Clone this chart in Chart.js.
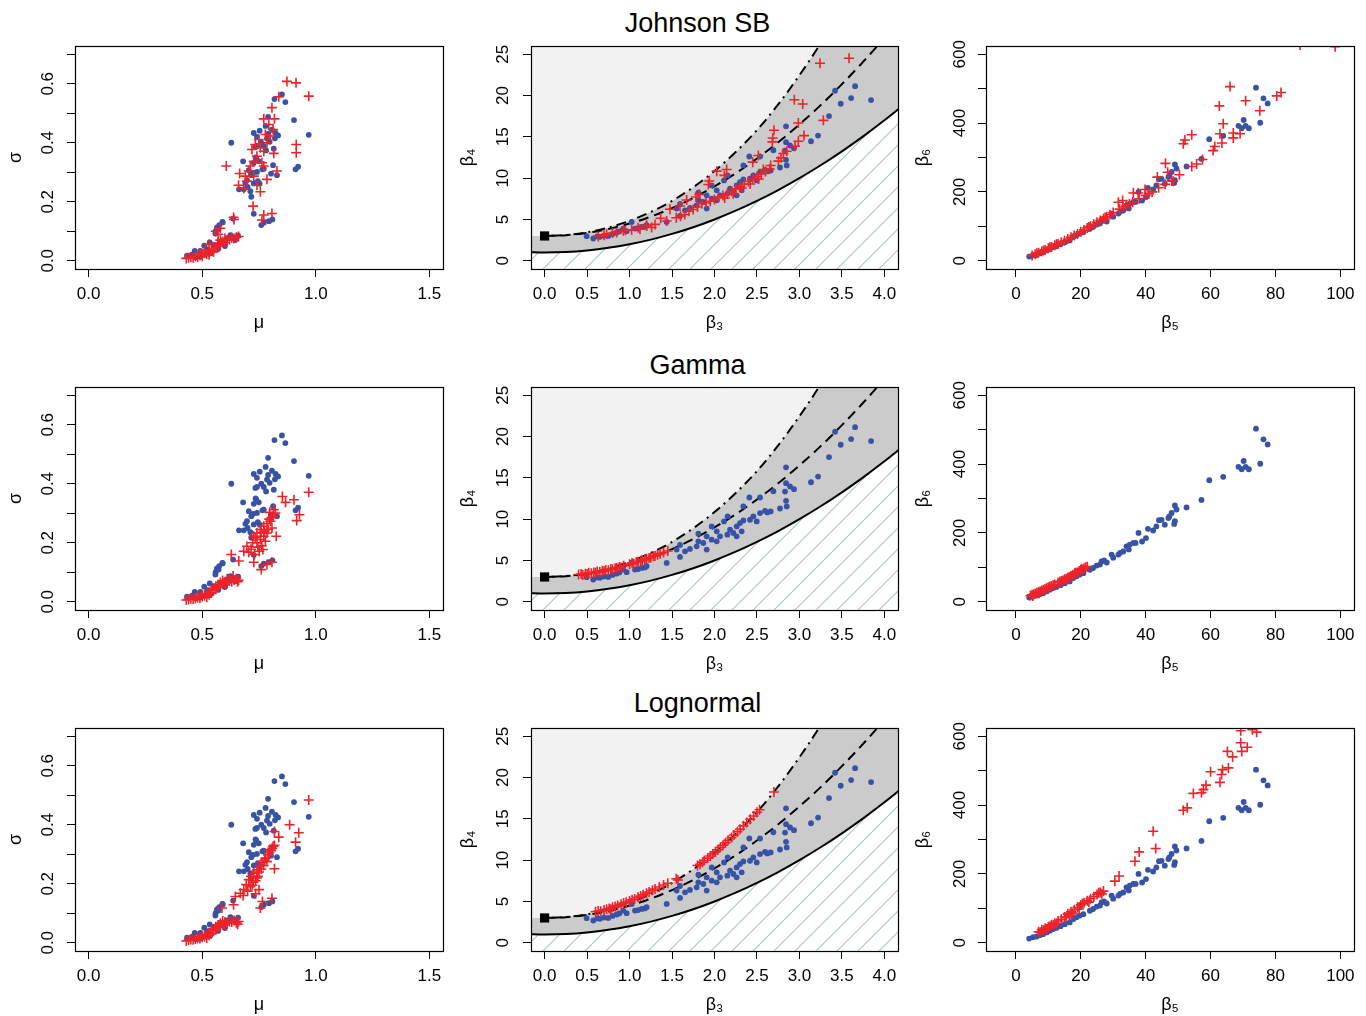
<!DOCTYPE html>
<html>
<head>
<meta charset="utf-8">
<script src="https://cdn.jsdelivr.net/npm/chart.js@4.4.1/dist/chart.umd.min.js"></script>
<style>
  body { margin: 0; width: 1366px; height: 1016px; background: #fff; position: relative; overflow: hidden;
         font-family: "Liberation Sans", Arial, Helvetica, sans-serif; }
  canvas { position: absolute; }
  .ttl { position: absolute; font-size: 27px; color: #000; white-space: nowrap; transform: translate(-50%, -50%); }
</style>
</head>
<body>
<div class="ttl" style="left:697.5px; top:23px">Johnson SB</div>
<div class="ttl" style="left:697.5px; top:364.5px">Gamma</div>
<div class="ttl" style="left:697.5px; top:703px">Lognormal</div>
<script>
// ---- data ----
const fitNames = ['Johnson SB', 'Gamma', 'Lognormal'];

// tick values and labels
const muTicks = [0, 0.5, 1, 1.5];
const muLabels = ['0.0', '0.5', '1.0', '1.5'];
const sigmaTicks = [0, 0.1, 0.2, 0.3, 0.4, 0.5, 0.6, 0.7];
const sigmaLabels = ['0.0', '', '0.2', '', '0.4', '', '0.6', ''];
const b3Ticks = [0, 0.5, 1, 1.5, 2, 2.5, 3, 3.5, 4];
const b3Labels = ['0.0', '0.5', '1.0', '1.5', '2.0', '2.5', '3.0', '3.5', '4.0'];
const b4Ticks = [0, 5, 10, 15, 20, 25];
const b4Labels = ['0', '5', '10', '15', '20', '25'];
const b5Ticks = [0, 20, 40, 60, 80, 100];
const b5Labels = ['0', '20', '40', '60', '80', '100'];
const b6Ticks = [0, 100, 200, 300, 400, 500, 600];
const b6Labels = ['0', '', '200', '', '400', '', '600'];

// empirical (blue) points, same in every row
const blueMuSigma = [
  [0.851,0.564],[0.818,0.548],[0.866,0.538],[0.790,0.488],[0.904,0.477],[0.779,0.457],[0.727,0.433],[0.753,0.441],
  [0.807,0.444],[0.823,0.433],[0.834,0.425],[0.969,0.427],[0.741,0.420],[0.785,0.414],[0.628,0.400],[0.741,0.389],
  [0.771,0.389],[0.734,0.386],[0.815,0.380],[0.781,0.374],[0.797,0.403],[0.680,0.337],[0.738,0.346],[0.749,0.337],
  [0.727,0.332],[0.812,0.324],[0.922,0.319],[0.911,0.310],[0.705,0.307],[0.771,0.312],[0.724,0.298],[0.741,0.301],
  [0.716,0.290],[0.829,0.290],[0.803,0.295],[0.697,0.273],[0.690,0.264],[0.727,0.262],[0.753,0.261],[0.662,0.242],
  [0.683,0.242],[0.712,0.236],[0.716,0.217],[0.727,0.159],[0.760,0.121],[0.771,0.129],[0.794,0.134],[0.809,0.140],
  [0.636,0.143],[0.589,0.132],[0.575,0.121],[0.565,0.113],[0.559,0.100],[0.760,0.400],[0.790,0.430],[0.820,0.415],
  [0.765,0.310],[0.745,0.270],[0.700,0.250],[0.735,0.350],
  [0.467,0.033],[0.509,0.051],[0.533,0.062],[0.558,0.092],[0.572,0.109],[0.590,0.130],[0.624,0.087],[0.658,0.085],
  [0.639,0.078],[0.433,0.017],[0.455,0.021],[0.492,0.033],[0.521,0.039],[0.550,0.053],[0.580,0.064],[0.609,0.076],
  [0.489,0.014],[0.536,0.025],[0.600,0.050],[0.570,0.040],[0.645,0.070],[0.510,0.020],[0.470,0.012]
];
const blueB3B4 = [
  [3.843,19.45],[3.655,21.14],[3.608,19.69],[3.419,20.58],[3.486,19.01],[3.348,17.52],[3.219,15.15],[3.136,14.47],
  [2.842,16.28],[2.842,14.35],[2.889,13.95],[2.936,13.63],[2.830,13.34],[2.842,12.22],[2.771,11.29],[2.693,13.38],
  [2.536,12.62],[2.410,12.62],[2.340,11.54],[2.595,11.01],[2.661,10.93],[2.536,10.73],[2.457,10.33],[2.418,9.93],
  [2.497,9.73],[2.340,9.85],[2.261,9.12],[2.300,9.53],[2.155,10.33],[2.112,9.73],[2.183,8.72],[2.222,8.32],
  [2.151,8.12],[2.065,7.92],[2.026,7.32],[1.967,7.52],[1.908,7.92],[1.810,8.24],[1.868,7.11],[1.790,6.71],
  [1.711,6.39],[1.653,6.11],[1.594,6.87],[1.554,6.31],[1.594,5.43],[1.437,4.70],[1.201,4.30],[1.143,4.10],
  [1.064,3.90],[0.966,3.58],[0.926,3.90],[0.848,3.42],[0.750,3.01],[0.652,2.89],[0.573,2.69],[0.495,2.97],
  [1.025,4.70],[2.026,8.52],[1.967,9.12],[1.810,7.32],[1.908,6.31],[2.261,7.92],[2.320,8.52],[2.622,10.81],
  [2.850,11.54],[1.180,4.15],[1.100,3.95],[0.880,3.55],[0.800,3.25],[0.700,3.05],[0.620,2.95]
];
const blueB5B6 = [
  [74.0,503],[76.3,472],[77.6,457],[75.3,401],[70.2,409],[68.6,392],[69.6,385],[70.8,392],[71.8,385],[59.6,353],
  [63.9,363],[57.2,296],[52.6,274],[49.0,280],[49.5,268],[47.3,248],[49.0,234],[48.8,226],[44.1,237],[45.9,224],
  [43.3,219],[42.3,207],[40.7,212],[37.8,200],[40.1,185],[38.9,175],[36.9,171],[35.1,166],[34.1,161],[33.1,146],
  [31.6,137],[29.5,137],[28.0,114],[26.4,117],[24.9,105],[22.8,93],[20.8,83],[18.7,74],[16.6,59],[15.1,54],
  [12.5,43],[10.5,35],[8.4,25],[6.4,18],[4.1,12],[5.3,16],[7.4,22],[9.5,30],[11.5,40],[17.7,69],
  [19.7,79],[23.8,98],[25.9,108],[30.0,128],[32.1,142],[36.2,171],[44.9,238],[47.0,243],[48.0,258],[34.8,152],
  [27.2,120],[13.8,48]
];

// fitted (red) points, one array per row
const redMuSigma = [
  [ // Johnson SB
    [0.873,0.608],[0.913,0.603],[0.969,0.558],[0.837,0.556],[0.807,0.519],[0.771,0.481],[0.818,0.481],[0.793,0.462],
    [0.812,0.445],[0.778,0.428],[0.800,0.423],[0.749,0.411],[0.785,0.400],[0.734,0.394],[0.756,0.383],[0.719,0.377],
    [0.771,0.371],[0.741,0.354],[0.815,0.364],[0.727,0.337],[0.763,0.332],[0.712,0.321],[0.606,0.321],[0.914,0.394],
    [0.914,0.366],[0.829,0.304],[0.705,0.304],[0.665,0.296],[0.690,0.287],[0.727,0.287],[0.771,0.321],[0.697,0.270],
    [0.785,0.276],[0.660,0.256],[0.683,0.245],[0.741,0.256],[0.756,0.234],[0.724,0.185],[0.763,0.138],[0.771,0.155],
    [0.807,0.160],[0.638,0.147],
    [0.43,0.008],[0.44,0.010],[0.45,0.012],[0.46,0.010],[0.47,0.015],[0.48,0.013],[0.49,0.018],[0.50,0.020],
    [0.50,0.015],[0.51,0.025],[0.52,0.022],[0.53,0.030],[0.53,0.020],[0.54,0.035],[0.55,0.040],[0.55,0.030],
    [0.56,0.045],[0.57,0.050],[0.57,0.060],[0.58,0.055],[0.58,0.070],[0.59,0.065],[0.60,0.062],[0.60,0.075],
    [0.61,0.070],[0.62,0.072],[0.63,0.078],[0.64,0.075],[0.65,0.080],[0.66,0.082],[0.56,0.100],[0.57,0.090],
    [0.58,0.110],[0.64,0.140],[0.53,0.055],[0.49,0.025],[0.51,0.035]
  ],
  [ // Gamma
    [0.43,0.006],[0.44,0.008],[0.45,0.010],[0.46,0.009],[0.47,0.012],[0.48,0.014],[0.49,0.013],[0.50,0.018],
    [0.50,0.022],[0.51,0.020],[0.52,0.026],[0.53,0.024],[0.53,0.032],[0.54,0.030],[0.55,0.038],[0.55,0.045],
    [0.56,0.042],[0.57,0.050],[0.57,0.058],[0.58,0.055],[0.58,0.065],[0.59,0.060],[0.60,0.058],[0.60,0.068],
    [0.61,0.064],[0.62,0.070],[0.63,0.068],[0.64,0.074],[0.65,0.078],[0.66,0.073],[0.56,0.052],[0.54,0.040],
    [0.59,0.072],[0.61,0.078],[0.48,0.020],[0.52,0.015],
    [0.683,0.171],[0.705,0.168],[0.697,0.188],[0.722,0.200],[0.727,0.222],[0.741,0.233],[0.756,0.245],[0.771,0.256],
    [0.785,0.265],[0.800,0.273],[0.812,0.290],[0.822,0.301],[0.756,0.211],[0.771,0.222],[0.741,0.200],[0.767,0.177],
    [0.751,0.171],[0.734,0.217],[0.785,0.233],[0.807,0.250],[0.815,0.312],[0.797,0.303],[0.762,0.190],[0.778,0.205],
    [0.790,0.245],[0.745,0.185],[0.730,0.160],[0.715,0.178],[0.760,0.235],[0.795,0.280],[0.805,0.285],[0.775,0.240],
    [0.853,0.357],[0.867,0.337],[0.904,0.346],[0.969,0.371],[0.928,0.295],[0.916,0.275],[0.628,0.160],[0.661,0.138],
    [0.727,0.134],[0.760,0.109],[0.785,0.126],[0.807,0.134],[0.636,0.087],[0.656,0.068],[0.826,0.222]
  ],
  [ // Lognormal
    [0.43,0.006],[0.44,0.009],[0.45,0.011],[0.46,0.010],[0.47,0.013],[0.48,0.015],[0.49,0.014],[0.50,0.019],
    [0.50,0.024],[0.51,0.021],[0.52,0.028],[0.53,0.025],[0.53,0.034],[0.54,0.031],[0.55,0.040],[0.55,0.047],
    [0.56,0.044],[0.57,0.052],[0.57,0.060],[0.58,0.057],[0.58,0.066],[0.59,0.062],[0.60,0.060],[0.60,0.070],
    [0.61,0.066],[0.62,0.072],[0.63,0.070],[0.64,0.075],[0.65,0.068],[0.66,0.072],[0.56,0.054],[0.54,0.042],
    [0.59,0.074],[0.48,0.021],[0.52,0.016],
    [0.646,0.157],[0.668,0.168],[0.683,0.180],[0.694,0.197],[0.705,0.214],[0.715,0.225],[0.727,0.236],[0.741,0.247],
    [0.753,0.261],[0.763,0.272],[0.778,0.287],[0.790,0.298],[0.803,0.312],[0.700,0.175],[0.720,0.195],[0.735,0.210],
    [0.745,0.225],[0.760,0.250],[0.770,0.262],[0.785,0.275],[0.795,0.305],[0.808,0.320],[0.725,0.205],[0.750,0.240],
    [0.712,0.190],[0.680,0.160],[0.740,0.220],[0.775,0.280],
    [0.969,0.484],[0.885,0.400],[0.925,0.373],[0.911,0.341],[0.837,0.358],[0.818,0.377],[0.812,0.327],[0.797,0.315],
    [0.818,0.251],[0.587,0.118],[0.638,0.129],[0.656,0.063],[0.750,0.180],[0.735,0.166],[0.765,0.140],[0.807,0.151],
    [0.756,0.118],[0.818,0.330]
  ]
];
const redB3B4 = [
  [ // Johnson SB
    [3.242,23.91],[3.584,24.52],[2.940,19.49],[3.038,18.97],[3.282,17.00],[2.987,16.68],[3.054,15.15],[2.987,14.47],
    [2.700,15.80],[2.685,14.87],[2.681,14.39],[2.948,13.87],[2.811,12.98],[2.850,13.26],[2.783,12.46],[2.752,12.06],
    [2.450,11.94],[2.516,12.74],[2.661,11.54],[2.575,11.05],[2.143,11.05],[2.116,10.33],[2.026,10.85],[1.939,9.65],
    [1.927,9.24],[1.821,8.04],[1.782,7.72],[1.672,7.36],[1.594,6.63],[1.476,6.23],[1.366,5.14],[1.437,4.82],
    [1.260,4.02],[1.201,4.22],[1.123,3.82],[1.025,3.74],[0.926,3.62],[0.848,3.42],[0.730,3.22],[0.632,2.93],
    [2.00,7.4],[2.05,7.7],[2.10,7.9],[2.15,8.1],[2.20,8.4],[2.25,8.7],[2.30,9.0],[2.35,9.3],[2.40,9.6],[2.45,9.9],
    [2.50,10.2],[2.55,10.5],[2.60,10.8],[2.65,11.1],[1.90,7.0],[1.95,7.2],[1.85,6.9],[1.80,6.5],[1.70,6.0],[1.65,5.6],
    [1.60,5.4],[1.55,5.2],[1.75,6.2],[2.12,7.6],[2.22,8.1],[2.32,8.8],[2.42,9.3],[2.52,9.9],[1.10,4.0],[0.95,3.7],
    [0.80,3.35],[0.70,3.1],[1.20,4.3],[1.30,4.4]
  ],
  [ // Gamma
    [0.40,3.30],[0.43,3.35],[0.45,3.25],[0.48,3.40],[0.50,3.35],[0.52,3.50],[0.55,3.45],[0.58,3.55],[0.60,3.50],
    [0.62,3.65],[0.65,3.60],[0.68,3.75],[0.70,3.70],[0.72,3.85],[0.75,3.80],[0.78,3.95],[0.80,3.90],[0.83,4.05],
    [0.85,4.10],[0.88,4.20],[0.90,4.15],[0.93,4.35],[1.00,4.55],[1.03,4.70],[1.05,4.60],[1.08,4.80],[1.10,4.85],
    [1.13,4.95],[1.15,5.05],[1.18,5.10],[1.20,5.20],[1.23,5.30],[1.25,5.35],[1.28,5.50],[1.30,5.55],[1.33,5.70],
    [1.36,5.80],[1.40,5.95],[1.45,6.15]
  ],
  [ // Lognormal
    [0.60,3.75],[0.63,3.85],[0.66,3.80],[0.70,3.95],[0.73,4.05],[0.76,4.15],[0.78,4.05],[0.80,4.30],[0.83,4.40],
    [0.86,4.50],[0.90,4.65],[0.93,4.80],[0.96,4.90],[1.00,5.05],[1.03,5.20],[1.06,5.30],[1.10,5.50],[1.13,5.65],
    [1.16,5.80],[1.20,6.00],[1.23,6.15],[1.27,6.35],[1.30,6.50],[1.35,6.75],[1.40,7.00],[1.45,7.20],[1.55,7.75],
    [1.57,7.60],[1.80,9.35],[1.83,9.50],[1.86,9.75],[1.88,9.95],[1.92,10.25],[1.95,10.50],[1.98,10.75],[2.01,11.00],
    [2.04,11.25],[2.07,11.55],[2.10,11.80],[2.13,12.10],[2.16,12.40],[2.20,12.75],[2.23,13.05],[2.27,13.45],
    [2.30,13.75],[2.34,14.15],[2.38,14.55],[2.42,14.95],[2.46,15.35],[2.50,15.80],[2.53,16.10],[2.70,18.26]
  ]
];
const redB5B6 = [
  [ // Johnson SB
    [66.0,506],[62.7,450],[70.8,465],[75.2,436],[63.9,398],[80.4,479],[81.7,489],[98.4,622],[87.6,627],[54.2,366],
    [52.1,351],[51.6,340],[62.9,369],[63.5,342],[60.8,320],[61.3,332],[67.0,371],[67.0,357],[69.1,369],[57.5,294],
    [55.7,281],[54.2,274],[50.4,250],[46.1,283],[46.8,257],[43.6,243],[48.5,231],[36.2,197],[37.7,197],[31.6,170],
    [32.9,175],[39.8,207],
    [5,15],[6,19],[7,23],[8,27],[9,31],[10,36],[11,40],[12,45],[13,49],[14,54],[15,58],[16,63],[17,68],[18,73],
    [19,78],[20,84],[21,89],[22,95],[23,100],[24,106],[25,112],[26,117],[27,122],[28,128],[29,134],[30,140],
    [32,150],[34,160],[36,170],[38,180],[40,190],[42,200],[44,212],[46,222],[48,232],[6.5,22],[8.5,30],[10.5,39],
    [12.5,48],[22.5,98],[27.5,126],[33,156],[35,165],[41,195]
  ],
  [ // Gamma
    [4.5,18],[5,20],[5.5,22],[6,24],[6.5,26],[7,28],[7.5,30],[8,33],[8.5,35],[9,37],[9.5,40],[10,42],[10.5,44],
    [11,46],[11.5,48],[12,50],[13,55],[14,60],[14.5,62],[15,65],[15.5,67],[16,70],[16.5,72],[17,75],[17.5,78],
    [18,80],[18.5,83],[19,86],[19.5,89],[20,92],[20.5,94],[21,97],[21.5,100],[22,102],[5.2,17],[7.2,25],[13.5,58],
    [16.2,68],[18.2,84],[20.2,96]
  ],
  [ // Lognormal
    [69.3,616],[72.9,619],[74.2,612],[69.3,581],[69.6,556],[71.3,568],[65.2,556],[66.8,540],[65.5,508],[63.7,503],
    [63.4,489],[62.9,466],[60.0,497],[58.6,458],[57.8,445],[57.2,436],[54.7,434],[52.8,392],[51.6,385],[42.3,324],
    [43.1,274],[38.0,264],[36.7,237],[31.8,194],[30.5,179],
    [7,32],[7.5,30],[8,38],[8.5,36],[9,42],[9.5,40],[10,46],[10.5,48],[11,52],[11.5,50],[12,57],[12.5,55],[13,63],
    [14,68],[15,75],[15.5,74],[16,84],[16.5,80],[17,90],[17.5,86],[18,96],[19,103],[19.5,98],[20,110],[20.5,114],
    [21,116],[22,122],[22.5,118],[23,128],[24,134],[25,140],[25.5,145],[26,146],[27,150],[26.5,142]
  ]
];

// reference curves of the (beta3, beta4) plane
const curveX = [-0.2, 0, 0.25, 0.5, 0.75, 1, 1.25, 1.5, 1.75, 2, 2.25, 2.5, 2.75, 3, 3.25, 3.5, 3.75, 4, 4.25];
const lowerBound = [1.04, 1.0, 1.06, 1.25, 1.56, 2.0, 2.56, 3.25, 4.06, 5.0, 6.06, 7.25, 8.56, 10.0, 11.56, 13.25, 15.06, 17.0, 19.06];
const gammaLine = [3.0, 3.09, 3.38, 3.84, 4.5, 5.34, 6.38, 7.59, 9.0, 10.59, 12.38, 14.34, 16.5, 18.84, 21.38, 24.09, 27.0, 30.09];
const lognormalLine = [3.0, 3.11, 3.44, 4.02, 4.83, 5.91, 7.24, 8.9, 10.86, 13.17, 15.82, 18.93, 22.46, 26.34, 30.74];
const upperBound = [3.0, 3.0, 3.11, 3.44, 4.02, 4.83, 5.91, 7.24, 8.9, 10.86, 13.17, 15.82, 18.93, 22.46, 26.34, 30.74, 35.62, 41.0, 46.99];
const normalPoint = [0, 3];

// ---- layout / style ----
const FONT = '"Liberation Sans", Arial, Helvetica, sans-serif';
const BLUE = '#3853a6';
const RED = '#ee2229';
const BOX_X0 = [75, 531, 986];
const BOX_X1 = [443, 898, 1354];
const BOX_Y0 = [46, 387, 728];
const BOX_H = 223;
const PAD_T = 46, PAD_R = 8, AXIS_H = 70;

Chart.defaults.font.family = FONT;

const AXES = [
  { x: { min: -0.06, max: 1.56, ticks: muTicks, labels: muLabels, title: 'μ' },
    y: { min: -0.028, max: 0.728, ticks: sigmaTicks, labels: sigmaLabels, title: 'σ', pad: 7.2, tpad: 5.8 }, wy: 75 },
  { x: { min: -0.16, max: 4.16, ticks: b3Ticks, labels: b3Labels, title: 'β₃' },
    y: { min: -1, max: 26, ticks: b4Ticks, labels: b4Labels, title: 'β₄', pad: 10, tpad: 2.8 }, wy: 76 },
  { x: { min: -9.2, max: 104.2, ticks: b5Ticks, labels: b5Labels, title: 'β₅' },
    y: { min: -24, max: 624, ticks: b6Ticks, labels: b6Labels, title: 'β₆', pad: 3.8, tpad: 2.8 }, wy: 76 }
];

function axis(spec, horiz, size) {
  return {
    type: 'linear',
    position: horiz ? 'bottom' : 'left',
    bounds: 'data',
    min: spec.min,
    max: spec.max,
    afterBuildTicks: s => { s.ticks = spec.ticks.map(v => ({ value: v })); },
    afterFit: s => { if (horiz) s.height = size; else s.width = size; },
    grid: { drawOnChartArea: false, drawTicks: true, tickLength: 8, color: '#000', lineWidth: 1 },
    border: { display: false },
    ticks: {
      autoSkip: false,
      color: '#000',
      font: { size: 17 },
      padding: horiz ? 7 : spec.pad,
      minRotation: horiz ? 0 : 90,
      maxRotation: horiz ? 0 : 90,
      crossAlign: horiz ? 'near' : 'center',
      callback: (v, i) => spec.labels[i]
    },
    title: {
      display: true,
      text: spec.title,
      color: '#000',
      font: { size: 18 },
      padding: horiz ? { top: 0, bottom: 5.2 } : { top: spec.tpad - 0.6, bottom: 0 }
    }
  };
}

const boxPlugin = {
  id: 'box',
  beforeDraw(chart, args, opts) {
    if (!opts.fill) return;
    const { ctx, chartArea: a } = chart;
    ctx.save();
    ctx.fillStyle = opts.fill;
    ctx.fillRect(a.left, a.top, a.width, a.height);
    ctx.restore();
  },
  afterDraw(chart) {
    const { ctx, chartArea: a } = chart;
    ctx.save();
    ctx.strokeStyle = '#000';
    ctx.lineWidth = 1.2;
    ctx.strokeRect(Math.round(a.left) + 0.5, Math.round(a.top) + 0.5,
                   Math.round(a.width), Math.round(a.height));
    ctx.restore();
  }
};

function hatchPattern() {
  const s = 21;
  const tile = document.createElement('canvas');
  tile.width = s; tile.height = s;
  const c = tile.getContext('2d');
  c.fillStyle = '#fff';
  c.fillRect(0, 0, s, s);
  c.strokeStyle = '#adc5bd';
  c.lineWidth = 1.1;
  c.beginPath();
  c.moveTo(0, s); c.lineTo(s, 0);
  c.moveTo(-1, 1); c.lineTo(1, -1);
  c.moveTo(s - 1, s + 1); c.lineTo(s + 1, s - 1);
  c.stroke();
  return c.createPattern(tile, 'repeat');
}
const HATCH = hatchPattern();

const pts = arr => arr.map(p => ({ x: p[0], y: p[1] }));
const line = (xs, ys) => ys.map((y, i) => ({ x: xs[i], y }));

const redSet = data => ({
  data: pts(data), pointStyle: 'cross', pointRadius: 5, borderColor: RED,
  backgroundColor: RED, borderWidth: 1.6, clip: 0
});
const blueSet = data => ({
  data: pts(data), pointStyle: 'circle', pointRadius: 2.9, backgroundColor: BLUE,
  borderColor: BLUE, borderWidth: 0, clip: 0
});

function momentSets(red) {
  return [
    redSet(red),
    blueSet(blueB3B4),
    { data: [{ x: normalPoint[0], y: normalPoint[1] }], pointStyle: 'rect', pointRadius: 6.5,
      backgroundColor: '#000', borderWidth: 0, clip: 0 },
    { type: 'line', data: line(curveX.slice(1), lognormalLine), showLine: true, pointRadius: 0,
      borderColor: '#000', borderWidth: 2, borderDash: [2, 5, 10, 5], fill: false,
      cubicInterpolationMode: 'monotone', clip: 0 },
    { type: 'line', data: line(curveX.slice(1), gammaLine), showLine: true, pointRadius: 0,
      borderColor: '#000', borderWidth: 2, borderDash: [10, 6], fill: false,
      cubicInterpolationMode: 'monotone', clip: 0 },
    { type: 'line', data: line(curveX, lowerBound), showLine: true, pointRadius: 0,
      borderColor: '#000', borderWidth: 2, fill: 'start', backgroundColor: HATCH,
      cubicInterpolationMode: 'monotone', clip: 0 },
    { type: 'line', data: line(curveX, upperBound), showLine: true, pointRadius: 0,
      borderColor: 'rgba(0,0,0,0)', borderWidth: 0, fill: 5, backgroundColor: '#cbcbcb',
      cubicInterpolationMode: 'monotone', clip: 0 }
  ];
}

function makeChart(row, col, datasets, bg) {
  const ax = AXES[col];
  const cv = document.createElement('canvas');
  cv.width = ax.wy + BOX_X1[col] - BOX_X0[col] + PAD_R;
  cv.height = PAD_T + BOX_H + AXIS_H;
  cv.style.left = (BOX_X0[col] - ax.wy) + 'px';
  cv.style.top = (BOX_Y0[row] - PAD_T) + 'px';
  document.body.appendChild(cv);
  new Chart(cv, {
    type: 'scatter',
    data: { datasets },
    options: {
      responsive: false,
      animation: false,
      devicePixelRatio: 1,
      layout: { padding: { top: PAD_T, right: PAD_R, left: 0, bottom: 0 } },
      plugins: { legend: { display: false }, tooltip: { enabled: false }, box: { fill: bg } },
      scales: { x: axis(ax.x, true, AXIS_H), y: axis(ax.y, false, ax.wy) }
    },
    plugins: [boxPlugin]
  });
}

fitNames.forEach((name, r) => {
  makeChart(r, 0, [redSet(redMuSigma[r]), blueSet(blueMuSigma)], null);
  makeChart(r, 1, momentSets(redB3B4[r]), '#f2f2f2');
  makeChart(r, 2, [redSet(redB5B6[r]), blueSet(blueB5B6)], null);
});
</script>
</body>
</html>
